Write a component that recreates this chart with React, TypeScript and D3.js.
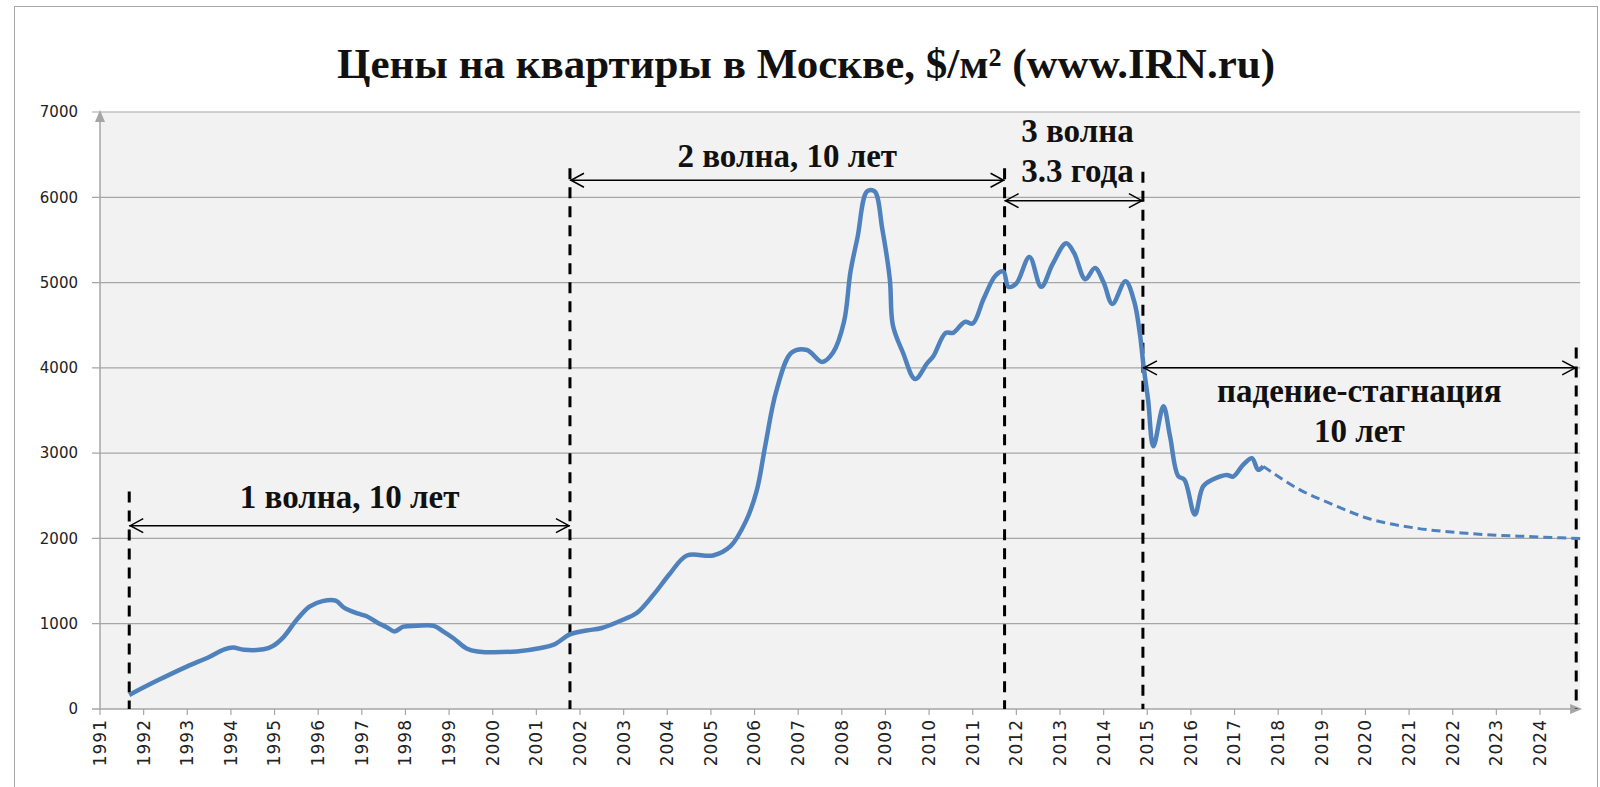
import React, { useEffect, useRef } from 'react';
import * as d3 from 'd3';

// axis ticks
const yTicks = [0, 1000, 2000, 3000, 4000, 5000, 6000, 7000];
const yearTicks = [
  1991, 1992, 1993, 1994, 1995, 1996, 1997, 1998, 1999, 2000, 2001, 2002,
  2003, 2004, 2005, 2006, 2007, 2008, 2009, 2010, 2011, 2012, 2013, 2014,
  2015, 2016, 2017, 2018, 2019, 2020, 2021, 2022, 2023, 2024,
];

// price series, $/m2
const priceYears = [
  1991.67, 1992.3, 1993.0, 1993.5, 1993.85, 1994.05, 1994.3, 1994.75, 1994.95,
  1995.2, 1995.5, 1995.8, 1996.1, 1996.4, 1996.6, 1996.9, 1997.1, 1997.35,
  1997.57, 1997.75, 1997.95, 1998.25, 1998.65, 1998.88, 1999.1, 1999.4,
  1999.65, 2000.55, 2001.1, 2001.4, 2001.77, 2002.15, 2002.5, 2003.0, 2003.3,
  2003.7, 2004.05, 2004.45, 2005.05, 2005.45, 2005.8, 2006.05, 2006.25,
  2006.5, 2006.85, 2007.2, 2007.55, 2007.8, 2008.05, 2008.2, 2008.36,
  2008.58, 2008.75, 2008.93, 2009.1, 2009.17, 2009.4, 2009.68, 2009.95,
  2010.1, 2010.38, 2010.55, 2010.82, 2011.0, 2011.25, 2011.52, 2011.7,
  2011.82, 2012.0, 2012.3, 2012.57, 2012.83, 2013.14, 2013.32, 2013.58,
  2013.8, 2014.0, 2014.2, 2014.5, 2014.7, 2014.83, 2014.92, 2015.02, 2015.14,
  2015.37, 2015.52, 2015.71, 2015.85, 2016.09, 2016.28, 2016.5, 2016.82,
  2016.97, 2017.2, 2017.4, 2017.54, 2017.66,
];
const priceValues = [
  165, 330, 500, 610, 700, 720, 695, 700, 735,
  840, 1040, 1200, 1265, 1270, 1185, 1120, 1090, 1015,
  960, 910, 965, 975, 975, 905, 830, 710,
  675, 675, 715, 755, 875, 920, 950, 1050, 1125,
  1350, 1580, 1800, 1800, 1910, 2200, 2560, 3100,
  3730, 4180, 4210, 4070, 4180, 4540, 5130, 5530,
  6070, 6070, 5620, 5040, 4500, 4180, 3870, 4050,
  4140, 4410, 4410, 4540, 4520, 4810, 5080, 5130,
  4950, 4990, 5300, 4950, 5215, 5460, 5350, 5040,
  5170, 5000, 4750, 5015, 4780, 4400, 4000, 3620, 3080,
  3550, 3200, 2730, 2690, 2280, 2610, 2690, 2745,
  2725, 2865, 2940, 2805, 2845,
];

// forecast (dashed)
const forecastYears = [2017.66, 2018.5, 2019.26, 2020.03, 2021.17, 2022.32, 2023.84, 2024.92];
const forecastValues = [2845, 2570, 2395, 2240, 2120, 2060, 2020, 2000];

// wave boundaries
const markerYears = [1991.67, 2001.77, 2011.73, 2014.9, 2024.83];
const markerTops = [2550, 6340, 6340, 6300, 4240];

// double arrows between boundaries
const spanFrom = [1991.67, 2001.77, 2011.73, 2014.9];
const spanTo = [2001.77, 2011.73, 2014.9, 2024.83];
const spanLevel = [2150, 6200, 5960, 4000];

// captions
const noteTexts = ['1 волна, 10 лет', '2 волна, 10 лет', '3 волна', '3.3 года', 'падение-стагнация', '10 лет'];
const noteYears = [1996.72, 2006.75, 2013.4, 2013.4, 2019.86, 2019.86];
const noteValues = [2360, 6360, 6650, 6185, 3600, 3130];

const TITLE = 'Цены на квартиры в Москве, $/м² (www.IRN.ru)';

function App() {
  const ref = useRef<SVGSVGElement>(null);

  useEffect(() => {
    const svg = d3.select(ref.current);
    svg.selectAll('*').remove();

    const xEnd = 2024.92;
    const x = d3.scaleLinear().domain([1991, 2024]).range([100, 1540]);
    const y = d3.scaleLinear().domain([0, 7000]).range([709, 112]);
    const axisGrey = '#a6a6a6';
    const labelFont = '"DejaVu Sans", Verdana, sans-serif';
    const serif = '"Liberation Serif", "Times New Roman", serif';

    // chart frame
    svg.append('rect')
      .attr('x', 14.5).attr('y', 6.5)
      .attr('width', 1583).attr('height', 800)
      .attr('fill', '#fff').attr('stroke', axisGrey);

    // plot background
    svg.append('rect')
      .attr('x', x(1991)).attr('y', y(7000))
      .attr('width', x(xEnd) - x(1991)).attr('height', y(0) - y(7000))
      .attr('fill', '#f2f2f2');

    // grid
    svg.append('g').selectAll('line')
      .data(yTicks.filter(d => d > 0))
      .join('line')
      .attr('x1', x(1991) - 8).attr('x2', x(xEnd))
      .attr('y1', d => y(d)).attr('y2', d => y(d))
      .attr('stroke', axisGrey).attr('stroke-width', 1.2);

    // axes
    svg.append('line')
      .attr('x1', x(1991)).attr('x2', x(1991))
      .attr('y1', y(0)).attr('y2', y(7000))
      .attr('stroke', axisGrey).attr('stroke-width', 1.5);
    svg.append('path')
      .attr('d', `M${x(1991)},${y(7000) - 2} l-5,12 h10 z`)
      .attr('fill', axisGrey);
    svg.append('line')
      .attr('x1', x(1991) - 8).attr('x2', x(xEnd))
      .attr('y1', y(0)).attr('y2', y(0))
      .attr('stroke', axisGrey).attr('stroke-width', 1.5);
    svg.append('path')
      .attr('d', `M${x(xEnd) + 2},${y(0)} l-12,-5 v10 z`)
      .attr('fill', axisGrey);

    svg.append('g').selectAll('line')
      .data(yearTicks)
      .join('line')
      .attr('x1', d => x(d)).attr('x2', d => x(d))
      .attr('y1', y(0)).attr('y2', y(0) + 6)
      .attr('stroke', axisGrey).attr('stroke-width', 1.2);

    svg.append('g').selectAll('text')
      .data(yTicks)
      .join('text')
      .attr('x', 78).attr('y', d => y(d))
      .attr('dy', '0.35em')
      .attr('text-anchor', 'end')
      .attr('font-family', labelFont).attr('font-size', 15)
      .attr('fill', '#222')
      .text(d => d);

    svg.append('g').selectAll('text')
      .data(yearTicks)
      .join('text')
      .attr('transform', d => `translate(${x(d)},${y(0) + 10}) rotate(-90)`)
      .attr('dy', '0.35em')
      .attr('text-anchor', 'end')
      .attr('font-family', labelFont).attr('font-size', 17)
      .attr('letter-spacing', 1)
      .attr('fill', '#222')
      .text(d => d);

    // wave boundaries
    svg.append('g').selectAll('line')
      .data(markerYears)
      .join('line')
      .attr('x1', d => x(d)).attr('x2', d => x(d))
      .attr('y1', (d, i) => y(markerTops[i])).attr('y2', y(0))
      .attr('stroke', '#000').attr('stroke-width', 3)
      .attr('stroke-dasharray', '11,8');

    // price line
    const line = d3.line<number>()
      .x(d => x(d))
      .y((d, i) => y(priceValues[i]))
      .curve(d3.curveCatmullRom.alpha(0.5));
    svg.append('path')
      .attr('d', line(priceYears))
      .attr('fill', 'none').attr('stroke', '#4f81bd')
      .attr('stroke-width', 4.5).attr('stroke-linejoin', 'round');

    const fline = d3.line<number>()
      .x(d => x(d))
      .y((d, i) => y(forecastValues[i]))
      .curve(d3.curveMonotoneX);
    svg.append('path')
      .attr('d', fline(forecastYears))
      .attr('fill', 'none').attr('stroke', '#4f81bd')
      .attr('stroke-width', 3).attr('stroke-dasharray', '9,5');

    // double arrows
    const arrows = svg.append('g');
    spanFrom.forEach((from, i) => {
      const x0 = x(from), x1 = x(spanTo[i]), yy = y(spanLevel[i]);
      arrows.append('line')
        .attr('x1', x0).attr('x2', x1).attr('y1', yy).attr('y2', yy)
        .attr('stroke', '#000').attr('stroke-width', 1.5);
      arrows.append('path')
        .attr('d', `M${x0 + 14},${yy - 7} L${x0 + 1},${yy} L${x0 + 14},${yy + 7} M${x1 - 14},${yy - 7} L${x1 - 1},${yy} L${x1 - 14},${yy + 7}`)
        .attr('fill', 'none').attr('stroke', '#000').attr('stroke-width', 1.5);
    });

    // captions
    svg.append('g').selectAll('text')
      .data(noteTexts)
      .join('text')
      .attr('x', (d, i) => x(noteYears[i]))
      .attr('y', (d, i) => y(noteValues[i]))
      .attr('text-anchor', 'middle')
      .attr('font-family', serif).attr('font-weight', 'bold').attr('font-size', 33)
      .attr('fill', '#111')
      .text(d => d);

    // title
    svg.append('text')
      .attr('x', 806).attr('y', 78)
      .attr('text-anchor', 'middle')
      .attr('font-family', serif).attr('font-weight', 'bold').attr('font-size', 43)
      .attr('fill', '#111')
      .text(TITLE);
  }, []);

  return (
    <div style={{ position: 'fixed', left: 0, top: 0, width: 1600, height: 787, background: '#fff' }}>
      <svg ref={ref} width={1600} height={787} style={{ display: 'block' }} />
    </div>
  );
}

export default App;
